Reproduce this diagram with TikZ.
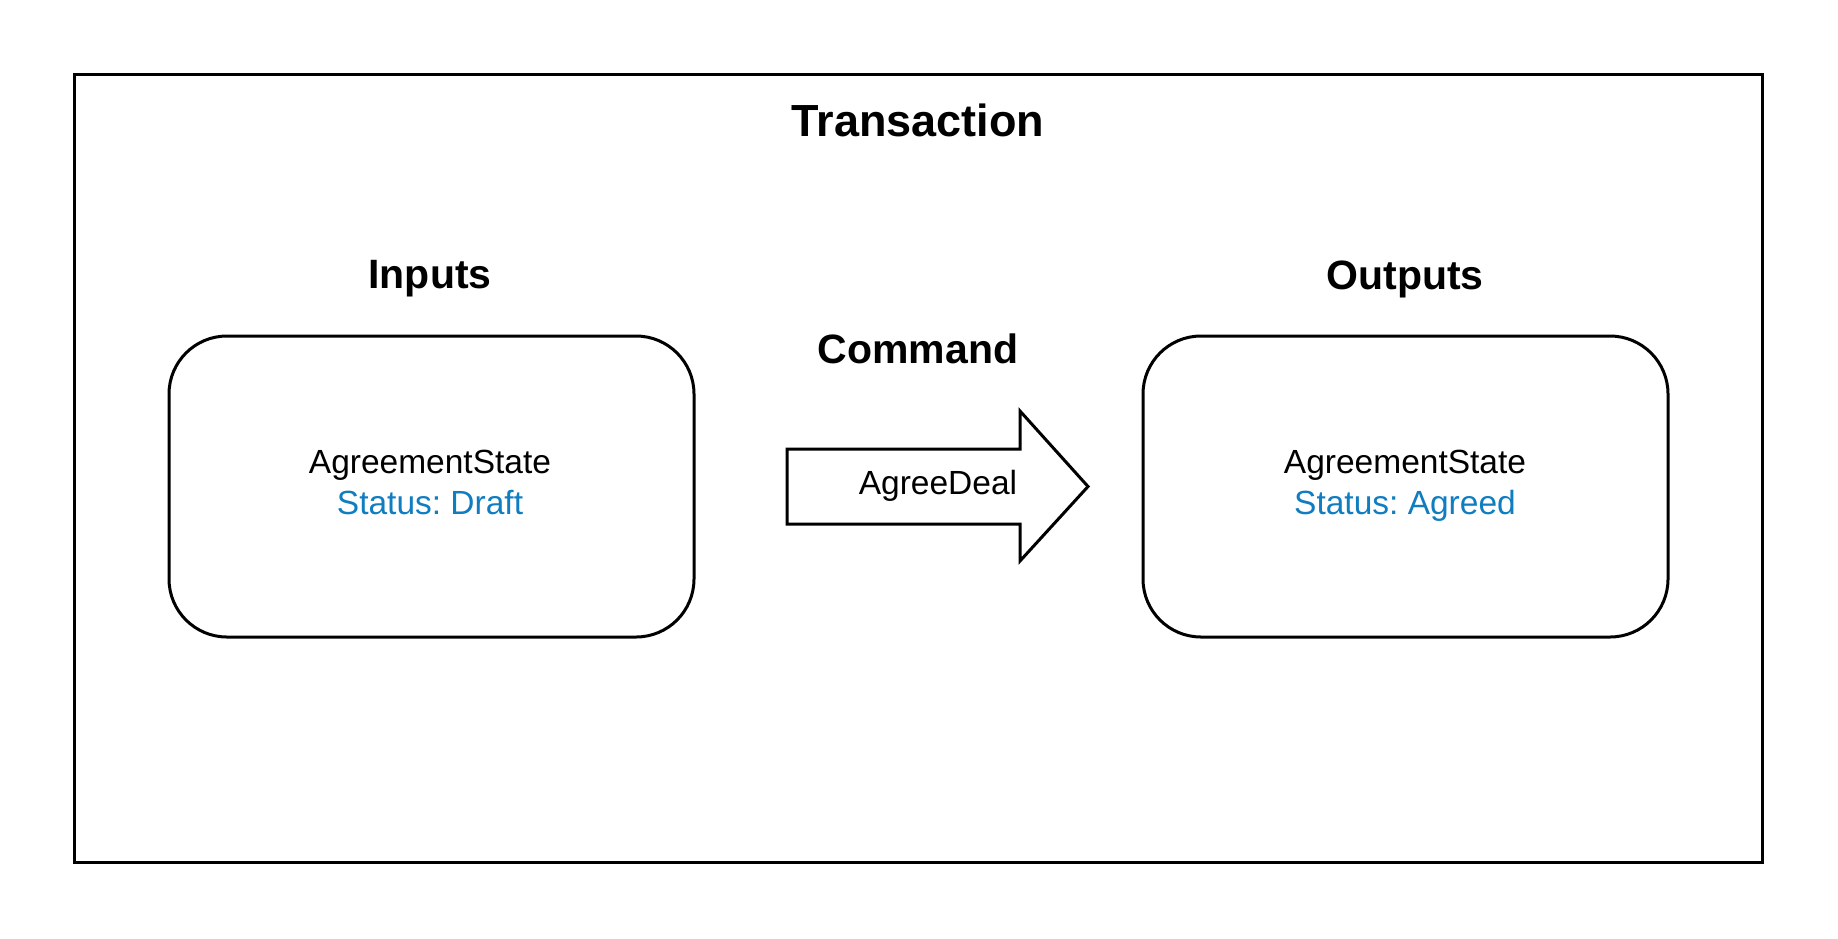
\documentclass[tikz,border=0pt]{standalone}
\usepackage{fontspec}
\setmainfont{Liberation Sans}
\definecolor{statusblue}{RGB}{16,125,193}
\frenchspacing
\begin{document}
\begin{tikzpicture}[x=1pt,y=-1pt,
  frame/.style={draw=black,line width=3pt},
  statebox/.style={draw=black,line width=3pt,rounded corners=58pt,minimum width=525pt,minimum height=301pt,inner sep=0pt},
  title/.style={font=\bfseries\fontsize{45}{54}\selectfont,inner sep=0pt},
  heading/.style={font=\bfseries\fontsize{41}{49}\selectfont,inner sep=0pt},
  body/.style={font=\fontsize{33.5}{40}\selectfont,inner sep=0pt,align=center},
  cmdarrow/.style={draw=black,line width=3pt,fill=white,line join=miter}
]
\useasboundingbox (0,0) rectangle (1838,938);
\draw[frame] (74,74) rectangle (1762,862);
\node[title] (trans) at (918,120) {Transaction};
\node[heading] (inputs) at (430,279) {Inputs};
\node[heading] (outputs) at (1405,279) {Outputs};
\node[heading] (command) at (918,349) {Command};
\node[statebox] (inbox) at (431.5,486.5) {};
\node[statebox] (outbox) at (1405.5,486.5) {};
\node[body] (instate) at (430,482) {AgreementState\\[1pt]\textcolor{statusblue}{Status: Draft}};
\node[body] (outstate) at (1405,482) {AgreementState\\[1pt]\textcolor{statusblue}{Status: A\smash{g}reed}};
\draw[cmdarrow] (787,449) -- (1020,449) -- (1020,411) -- (1088,486.5) -- (1020,561) -- (1020,524) -- (787,524) -- cycle;
\node[body] (deal) at (938,485.5) {AgreeDeal};
\end{tikzpicture}
\end{document}
